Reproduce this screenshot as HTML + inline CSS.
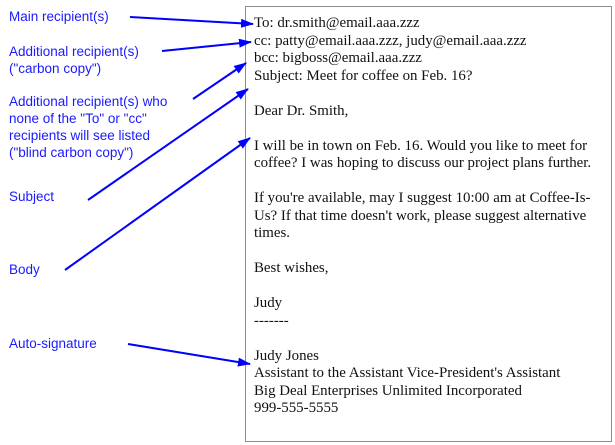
<!DOCTYPE html>
<html><head><style>
html,body{margin:0;padding:0;background:#fff;}
body{width:615px;height:445px;position:relative;overflow:hidden;}
.box{position:absolute;left:245px;top:6px;width:367px;height:436px;border:1px solid #8c8c8c;box-sizing:border-box;}
.t{position:absolute;left:254px;font-family:"Liberation Serif",serif;font-size:14.9px;line-height:17.5px;color:#111;white-space:nowrap;}
.l{position:absolute;left:9px;font-family:"Liberation Sans",sans-serif;font-size:13.5px;line-height:17px;color:#1a1aff;white-space:nowrap;}
svg{position:absolute;left:0;top:0;}
</style></head><body>
<div class="box"></div>
<div class="t" style="top:15px">To: dr.smith@email.aaa.zzz<br>cc: patty@email.aaa.zzz, judy@email.aaa.zzz<br>bcc: bigboss@email.aaa.zzz<br>Subject: Meet for coffee on Feb. 16?<br><br>Dear Dr. Smith,<br><br>I will be in town on Feb. 16. Would you like to meet for<br>coffee? I was hoping to discuss our project plans further.<br><br>If you're available, may I suggest 10:00 am at Coffee-Is-<br>Us? If that time doesn't work, please suggest alternative<br>times.<br><br>Best wishes,<br><br>Judy<br>-------<br><br>Judy Jones<br>Assistant to the Assistant Vice-President's Assistant<br>Big Deal Enterprises Unlimited Incorporated<br>999-555-5555</div>
<div class="l" style="top:8px">Main recipient(s)</div>
<div class="l" style="top:43px">Additional recipient(s)<br>("carbon copy")</div>
<div class="l" style="top:93px">Additional recipient(s) who<br>none of the "To" or "cc"<br>recipients will see listed<br>("blind carbon copy")</div>
<div class="l" style="top:188px">Subject</div>
<div class="l" style="top:261px">Body</div>
<div class="l" style="top:335px">Auto-signature</div>
<svg width="615" height="445">
<defs><marker id="a" markerWidth="13" markerHeight="9" refX="12" refY="4.5" orient="auto" markerUnits="userSpaceOnUse"><path d="M0,0 L13,4.5 L0,9 z" fill="#0000ff"/></marker></defs>
<g stroke="#0000ff" stroke-width="2" marker-end="url(#a)">
<line x1="130" y1="17" x2="253" y2="24"/>
<line x1="162" y1="51" x2="251" y2="42"/>
<line x1="193" y1="99" x2="246" y2="63"/>
<line x1="88" y1="200" x2="248" y2="89"/>
<line x1="65" y1="270" x2="250" y2="138"/>
<line x1="128" y1="344" x2="250" y2="364"/>
</g></svg>
</body></html>
